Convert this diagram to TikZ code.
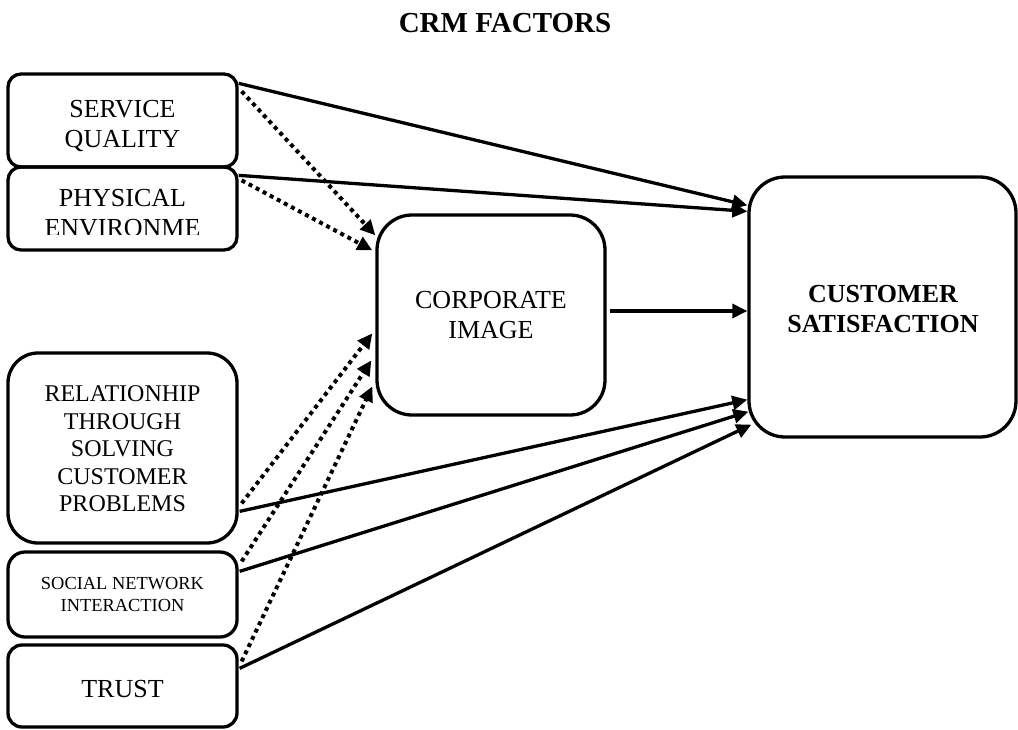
\documentclass[tikz,border=0pt]{standalone}
\usepackage{fontspec}
\setmainfont{Liberation Serif}
\usetikzlibrary{arrows.meta,calc}
\begin{document}
\begin{tikzpicture}[x=1pt,y=-1pt]
\tikzset{
 box/.style={draw, line width=3.3pt, inner sep=0pt, anchor=center},
 lbl/.style={align=center, inner sep=0pt, font=\fontsize{26}{30}\selectfont},
 conn/.style={line width=3.3pt, -{Triangle[length=15pt,width=14pt]}},
 dotconn/.style={line width=4pt, dash pattern=on 4pt off 4pt, -{Triangle[length=15pt,width=14pt]}},
}
\useasboundingbox (0,0) rectangle (1018,729);
% title
\node[lbl, anchor=base, font=\bfseries\fontsize{29}{34}\selectfont] (title) at (505,32) {CRM FACTORS};
% boxes
\node[box, minimum width=229pt, minimum height=93pt, rounded corners=13pt] (SQ) at (122.5,120.5) {};
\node[box, minimum width=229pt, minimum height=83pt, rounded corners=13pt] (PE) at (122.5,208.5) {};
\node[box, minimum width=229pt, minimum height=190pt, rounded corners=30pt] (RTS) at (122.5,448) {};
\node[box, minimum width=229pt, minimum height=85pt, rounded corners=17pt] (SNI) at (122.5,594.5) {};
\node[box, minimum width=229pt, minimum height=82pt, rounded corners=14pt] (TR) at (122.5,686) {};
\node[box, minimum width=228pt, minimum height=200pt, rounded corners=35pt] (CI) at (491,315) {};
\node[box, minimum width=267pt, minimum height=260pt, rounded corners=36pt] (CS) at (882.5,307) {};
% texts
\node[lbl] (tSQ) at (122.5,125.6) {SERVICE\\QUALITY};
\begin{scope}
\clip (8,168) rectangle (237,234);
\node[lbl] (tPE) at (122.5,213.4) {PHYSICAL\\ENVIRONME};
\end{scope}
\node[lbl, font=\fontsize{24}{27.5}\selectfont] (tRTS) at (122.5,449) {RELATIONHIP\\THROUGH\\SOLVING\\CUSTOMER\\PROBLEMS};
\node[lbl, font=\fontsize{18.4}{22}\selectfont] (tSNI) at (122.5,594.9) {SOCIAL NETWORK\\INTERACTION};
\node[lbl, anchor=base] (tTR) at (122.5,697) {TRUST};
\node[lbl] (tCI) at (491,315.4) {CORPORATE\\IMAGE};
\node[lbl, font=\bfseries\fontsize{26}{30}\selectfont] (tCS) at (883,309.5) {CUSTOMER\\SATISFACTION};
% solid connectors
\draw[conn] ($(SQ.north east)+(0,11)$) -- ($(CS.north west)+(0,30)$);
\draw[conn] ($(PE.north east)+(0,10)$) -- ($(CS.north west)+(0,36)$);
\draw[conn] ($(CI.east)+(3,-4)$) -- ($(CS.west)+(0,4)$);
\draw[conn] ($(RTS.north east)+(1,160)$) -- ($(CS.south west)+(0,-39)$);
\draw[conn] ($(SNI.north east)+(1,21)$) -- ($(CS.south west)+(1,-27)$);
\draw[conn] ($(TR.north east)+(1,25)$) -- ($(CS.south west)+(4,-14)$);
% dotted connectors
\draw[dotconn] ($(SQ.north east)+(3,19)$) -- ($(CI.north west)+(0,22)$);
\draw[dotconn] ($(PE.north east)+(3,15)$) -- ($(CI.north west)+(-3,37)$);
\draw[dotconn] ($(RTS.north east)+(3,152)$) -- ($(CI.north west)+(-3,120)$);
\draw[dotconn] ($(SNI.north east)+(3,11)$) -- ($(CI.north west)+(-4,147)$);
\draw[dotconn] ($(TR.north east)+(3,18)$) -- ($(CI.north west)+(-3,173)$);
\end{tikzpicture}
\end{document}
